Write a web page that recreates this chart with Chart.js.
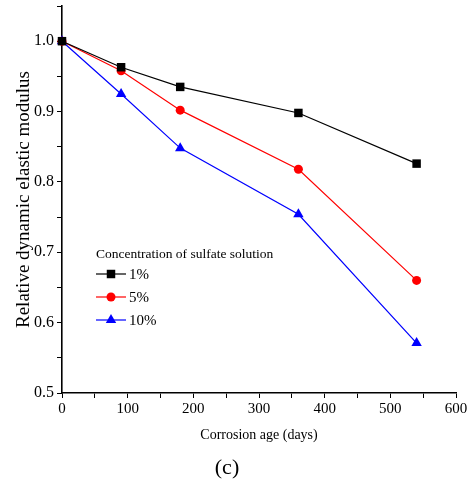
<!DOCTYPE html>
<html>
<head>
<meta charset="utf-8">
<script src="https://cdn.jsdelivr.net/npm/chart.js@4"></script>
<style>
  html, body { margin: 0; padding: 0; background: #fff; }
  #wrap { width: 471px; height: 488px; }
</style>
</head>
<body>
<div id="wrap"><canvas id="modulusChart"></canvas></div>
<script>
// corrosion age in days
var ages = [0, 90, 180, 360, 540];
// relative dynamic elastic modulus per sulfate concentration
var conc1 = [1.0, 0.963, 0.935, 0.898, 0.826];
var conc5 = [1.0, 0.958, 0.902, 0.818, 0.660];
var conc10 = [1.0, 0.925, 0.848, 0.754, 0.571];
var seriesLabels = ['1%', '5%', '10%'];
var legendTitle = 'Concentration of sulfate solution';
var FONT = '"Liberation Serif", "Times New Roman", serif';

function toPoints(values) {
    return ages.map((a, i) => ({ x: a, y: values[i] }));
}

// legend drawn inside the plot area, plus the "(c)" caption
const insideLegend = {
    id: 'insideLegend',
    afterDraw(chart) {
        const ctx = chart.ctx;
        ctx.save();
        ctx.fillStyle = '#000';
        ctx.textBaseline = 'middle';
        ctx.textAlign = 'left';
        ctx.font = '13.5px ' + FONT;
        ctx.fillText(legendTitle, 96, 254);

        chart.data.datasets.forEach((ds, i) => {
            const y = 274 + i * 23;
            ctx.strokeStyle = ds.borderColor;
            ctx.lineWidth = 1.2;
            ctx.beginPath();
            ctx.moveTo(96, y);
            ctx.lineTo(126, y);
            ctx.stroke();
            ctx.fillStyle = ds.backgroundColor;
            Chart.helpers.drawPoint(ctx, {
                pointStyle: ds.pointStyle,
                radius: ds.pointRadius,
                borderWidth: 0
            }, 111, y);
            ctx.fillStyle = '#000';
            ctx.font = '15px ' + FONT;
            ctx.fillText(ds.label, 129, y + 1);
        });

        ctx.textAlign = 'center';
        ctx.font = '22px ' + FONT;
        ctx.fillText('(c)', 227, 468);
        ctx.restore();
    }
};

new Chart(document.getElementById('modulusChart'), {
    type: 'line',
    data: {
        datasets: [
            {
                label: seriesLabels[0],
                data: toPoints(conc1),
                borderColor: '#000000',
                backgroundColor: '#000000',
                pointStyle: 'rect',
                pointRadius: 6
            },
            {
                label: seriesLabels[1],
                data: toPoints(conc5),
                borderColor: '#ff0000',
                backgroundColor: '#ff0000',
                pointStyle: 'circle',
                pointRadius: 4.5
            },
            {
                label: seriesLabels[2],
                data: toPoints(conc10),
                borderColor: '#0000ff',
                backgroundColor: '#0000ff',
                pointStyle: 'triangle',
                pointRadius: 6
            }
        ]
    },
    options: {
        responsive: true,
        maintainAspectRatio: false,
        animation: false,
        clip: false,
        layout: { padding: { top: 6, right: 15, left: 4, bottom: 40 } },
        elements: {
            line: { borderWidth: 1.2, tension: 0 },
            point: { borderWidth: 0, hoverRadius: 6 }
        },
        scales: {
            x: {
                type: 'linear',
                min: 0,
                max: 600,
                afterFit: (scale) => { scale.height = 55; },
                ticks: {
                    stepSize: 50,
                    color: '#000',
                    font: { family: FONT, size: 15 },
                    padding: 2,
                    maxRotation: 0,
                    autoSkip: false,
                    callback: (v) => v % 100 === 0 ? v : ''
                },
                grid: {
                    drawOnChartArea: false,
                    drawTicks: true,
                    tickLength: 5,
                    color: '#000',
                    lineWidth: 1
                },
                border: { display: true, color: '#000', width: 1.6 },
                title: {
                    display: true,
                    text: 'Corrosion age (days)',
                    color: '#000',
                    font: { family: FONT, size: 14 },
                    padding: { top: 4, bottom: 4 }
                }
            },
            y: {
                min: 0.5,
                max: 1.05,
                afterFit: (scale) => {
                    scale.width = 58;
                    // the empty top label needs no room above the axis
                    scale.paddingTop = 0;
                    scale.paddingBottom = 0;
                },
                ticks: {
                    stepSize: 0.05,
                    color: '#000',
                    font: { family: FONT, size: 16 },
                    padding: 3,
                    autoSkip: false,
                    callback: function (v) {
                        const r = Math.round(v * 100);
                        return (r % 10 === 0 && r <= 100) ? (r / 100).toFixed(1) : '';
                    }
                },
                grid: {
                    drawOnChartArea: false,
                    drawTicks: true,
                    tickLength: 5,
                    color: '#000',
                    lineWidth: 1
                },
                border: { display: true, color: '#000', width: 1.6 },
                title: {
                    display: true,
                    text: 'Relative dynamic elastic modulus',
                    color: '#000',
                    font: { family: FONT, size: 19 },
                    padding: { top: 9, bottom: 0 }
                }
            }
        },
        plugins: {
            legend: { display: false },
            tooltip: { enabled: false }
        }
    },
    plugins: [insideLegend]
});
</script>
</body>
</html>
